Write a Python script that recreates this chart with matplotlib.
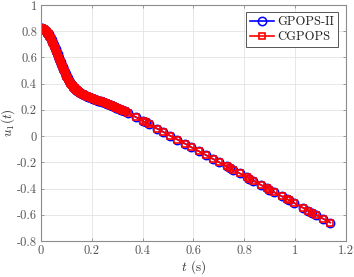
import matplotlib
matplotlib.use("Agg")
import matplotlib.pyplot as plt
import numpy as np

plt.rcParams['font.family'] = ['cmr10', 'DejaVu Serif']
plt.rcParams['mathtext.fontset'] = 'cm'
plt.rcParams['axes.unicode_minus'] = False

# time / state values (dense early mesh, then sparse)
t_dense = [0.0000, 0.0025, 0.0050, 0.0075, 0.0100, 0.0125, 0.0150, 0.0175, 0.0200, 0.0225,
           0.0250, 0.0275, 0.0300, 0.0325, 0.0350, 0.0375, 0.0400, 0.0425, 0.0450, 0.0475,
           0.0500, 0.0525, 0.0550, 0.0575, 0.0600, 0.0625, 0.0650, 0.0675, 0.0700, 0.0725,
           0.0750, 0.0775, 0.0800, 0.0825, 0.0850, 0.0875, 0.0900, 0.0925, 0.0950, 0.0975,
           0.1000, 0.1025, 0.1050, 0.1075, 0.1100, 0.1125, 0.1150, 0.1175, 0.1200, 0.1225,
           0.1250, 0.1275, 0.1300, 0.1325, 0.1350, 0.1375, 0.1400, 0.1425, 0.1450, 0.1475,
           0.150, 0.155, 0.160, 0.165, 0.170, 0.175, 0.180, 0.185, 0.190, 0.195,
           0.200, 0.205, 0.210, 0.215, 0.220, 0.225, 0.230, 0.235, 0.240, 0.245,
           0.250, 0.255, 0.260, 0.265, 0.270, 0.275, 0.280, 0.285, 0.290, 0.295,
           0.300, 0.305, 0.310, 0.315, 0.320, 0.325, 0.330]
u_dense = [0.822, 0.821, 0.820, 0.818, 0.815, 0.812, 0.808, 0.804, 0.800, 0.795,
           0.789, 0.782, 0.775, 0.767, 0.759, 0.750, 0.740, 0.730, 0.720, 0.709,
           0.698, 0.686, 0.674, 0.662, 0.649, 0.637, 0.624, 0.612, 0.599, 0.587,
           0.574, 0.562, 0.550, 0.538, 0.526, 0.514, 0.503, 0.492, 0.481, 0.470,
           0.460, 0.450, 0.441, 0.432, 0.423, 0.415, 0.407, 0.400, 0.393, 0.386,
           0.380, 0.374, 0.369, 0.364, 0.359, 0.354, 0.350, 0.346, 0.342, 0.338,
           0.335, 0.329, 0.323, 0.318, 0.313, 0.309, 0.305, 0.301, 0.297, 0.293,
           0.289, 0.286, 0.282, 0.278, 0.275, 0.271, 0.268, 0.264, 0.260, 0.257,
           0.253, 0.249, 0.246, 0.242, 0.238, 0.234, 0.230, 0.226, 0.222, 0.218,
           0.214, 0.210, 0.206, 0.202, 0.197, 0.193, 0.189]

t_sparse = [0.344, 0.373, 0.400, 0.412, 0.426, 0.458, 0.481, 0.508, 0.537, 0.567,
            0.589, 0.622, 0.650, 0.676, 0.702, 0.731, 0.742, 0.755, 0.783, 0.810,
            0.820, 0.836, 0.865, 0.891, 0.899, 0.917, 0.948, 0.970, 0.977, 0.996,
            1.033, 1.052, 1.066, 1.083, 1.111, 1.138]
u_sparse = [0.176, 0.145, 0.117, 0.104, 0.089, 0.056, 0.032, 0.003, -0.027, -0.058,
            -0.082, -0.116, -0.146, -0.173, -0.200, -0.231, -0.242, -0.256, -0.285, -0.314,
            -0.324, -0.341, -0.372, -0.399, -0.408, -0.427, -0.459, -0.482, -0.490, -0.510,
            -0.549, -0.569, -0.583, -0.601, -0.631, -0.659]

t_gpops = t_dense + t_sparse
u_gpops = u_dense + u_sparse
t_cgpops = t_dense + t_sparse
u_cgpops = u_dense + u_sparse

xticks = [0, 0.2, 0.4, 0.6, 0.8, 1.0, 1.2]
xlabels = ['0', '0.2', '0.4', '0.6', '0.8', '1', '1.2']
yticks = [-0.8, -0.6, -0.4, -0.2, 0, 0.2, 0.4, 0.6, 0.8, 1.0]
ylabels = ['-0.8', '-0.6', '-0.4', '-0.2', '0', '0.2', '0.4', '0.6', '0.8', '1']

fig = plt.figure(figsize=(3.54, 2.77), dpi=100)
ax = fig.add_axes([0.116, 0.130, 0.861, 0.852])

ax.plot(t_gpops, u_gpops, '-o', color='b', lw=1.2, ms=6.0, mew=1.1,
        mfc='none', label='GPOPS-II')
ax.plot(t_cgpops, u_cgpops, '-s', color='r', lw=1.2, ms=4.3, mew=1.2,
        mfc='none', label='CGPOPS')

ax.set_xlim(0, 1.2)
ax.set_ylim(-0.8, 1)
ax.set_xticks(xticks)
ax.set_xticklabels(xlabels)
ax.set_yticks(yticks)
ax.set_yticklabels(ylabels)

gray = '#555555'
ax.grid(True, color='#e3e3e3', lw=0.6)
ax.set_axisbelow(True)
for s in ax.spines.values():
    s.set_color('#8c8c8c')
    s.set_linewidth(0.8)
ax.tick_params(direction='in', length=2.5, width=0.6, colors='#8c8c8c',
               labelcolor=gray, labelsize=9, top=True, right=True, pad=3)

ax.set_xlabel('$t$ (s)', fontsize=9.5, color='#333333', labelpad=1)
ax.set_ylabel('$u_1(t)$', fontsize=9.5, color='#333333', labelpad=0)

leg = ax.legend(loc='upper right', fontsize=9, handlelength=1.9, handletextpad=0.3,
                borderpad=0.3, labelspacing=0.2, fancybox=False, framealpha=1,
                borderaxespad=0.6)
leg.get_frame().set_edgecolor('#555555')
leg.get_frame().set_linewidth(0.7)
for txt in leg.get_texts():
    txt.set_color('#222222')

fig.savefig('out.png', dpi=100)
